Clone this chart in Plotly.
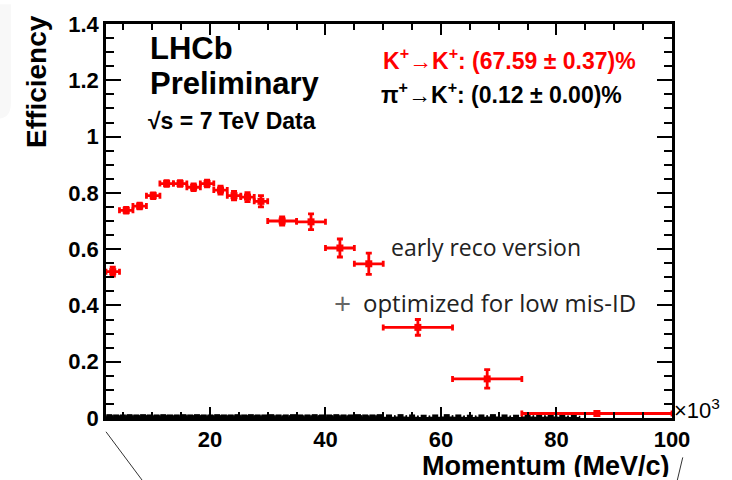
import plotly.graph_objects as go

# K+ -> K+ efficiency (momentum in units of 10^3 MeV/c)
k_p = [3.17, 5.50, 7.83, 10.17, 12.50, 14.83, 17.17, 19.50, 21.83, 24.17, 26.50, 28.83,
       32.5, 37.5, 42.5, 47.5, 56.0, 68.0, 87.0]
k_pw = [1.167] * 12 + [2.5, 2.5, 2.5, 2.5, 6.0, 6.0, 13.0]
k_eff = [0.520, 0.738, 0.753, 0.790, 0.833, 0.833, 0.820, 0.833, 0.810, 0.790, 0.785, 0.770,
         0.700, 0.697, 0.604, 0.548, 0.322, 0.139, 0.016]
k_err = [0.016, 0.010, 0.010, 0.010, 0.010, 0.010, 0.012, 0.012, 0.014, 0.015, 0.016, 0.020,
         0.015, 0.028, 0.032, 0.038, 0.028, 0.033, 0.006]

# pi+ -> K+ mis-identification rate
pi_p = [2.58, 3.75, 4.92, 6.08, 7.25, 8.42, 9.58, 10.75, 11.92, 13.08, 14.25, 15.42,
        16.58, 17.75, 18.92, 20.08, 21.25, 22.42, 23.58, 24.75, 25.92, 27.08, 28.25, 29.42,
        30.63, 31.88, 33.13, 34.38, 35.63, 36.88, 38.13, 39.38, 40.63, 41.88, 43.13, 44.38,
        45.63, 46.88, 48.13, 49.38,
        51.0, 53.0, 55.0, 57.0, 59.0, 61.0, 63.0, 65.0, 67.0, 69.0, 71.0, 73.0,
        75.0, 77.0, 79.0, 81.0, 83.0]
pi_pw = [0.583] * 24 + [0.625] * 16 + [1.0] * 17
pi_eff = [0.003, 0.002, 0.002, 0.003, 0.002, 0.003, 0.002, 0.002, 0.003, 0.002, 0.002, 0.003,
          0.002, 0.003, 0.002, 0.002, 0.003, 0.002, 0.002, 0.003, 0.002, 0.003, 0.002, 0.002,
          0.003, 0.002, 0.002, 0.003, 0.002, 0.002, 0.003, 0.002, 0.002, 0.003, 0.002, 0.002,
          0.003, 0.002, 0.002, 0.003,
          0.002, 0.003, 0.002, 0.001, 0.002, 0.003, 0.002, 0.001, 0.002, 0.003, 0.002, 0.001,
          0.003, 0.002, 0.003, 0.002, 0.001]
pi_err = [0.005] * 40 + [0.006] * 17

y_ticks = [0, 0.2, 0.4, 0.6, 0.8, 1, 1.2, 1.4]
y_ticktext = ["0", "0.2", "0.4", "0.6", "0.8", "1", "1.2", "1.4"]
x_ticks = [20, 40, 60, 80, 100]

FONT = "Liberation Sans"

fig = go.Figure()

fig.add_trace(go.Scatter(
    x=pi_p, y=pi_eff, mode="markers",
    marker=dict(symbol="square", size=6, color="black"),
    error_x=dict(type="data", array=pi_pw, color="black", thickness=1.5, width=2),
    error_y=dict(type="data", array=pi_err, color="black", thickness=1.5, width=2),
    showlegend=False, cliponaxis=False,
))

fig.add_trace(go.Scatter(
    x=k_p, y=k_eff, mode="markers",
    marker=dict(symbol="square", size=7, color="#ff0000"),
    error_x=dict(type="data", array=k_pw, color="#ff0000", thickness=2.8, width=3),
    error_y=dict(type="data", array=k_err, color="#ff0000", thickness=2.8, width=3),
    showlegend=False, cliponaxis=False,
))

axis_common = dict(
    showgrid=False, zeroline=False, showline=True, linecolor="black", linewidth=2.5,
    mirror="ticks", ticks="inside", tickcolor="black", tickwidth=2,
    tickfont=dict(family=FONT, size=22, color="black", weight=700),
)

fig.update_xaxes(
    range=[2, 100], tickvals=x_ticks, ticklen=11,
    minor=dict(dtick=5, tick0=0, ticks="inside", ticklen=6, tickwidth=2, tickcolor="black"),
    **axis_common,
)
fig.update_yaxes(
    range=[0, 1.4], tickvals=y_ticks, ticktext=y_ticktext, ticklen=15,
    minor=dict(dtick=0.05, tick0=0, ticks="inside", ticklen=8, tickwidth=2, tickcolor="black"),
    **axis_common,
)

def note(text, x, y, size, color="black", weight=700, xanchor="left", family=FONT,
         angle=0, height=None):
    fig.add_annotation(
        text=text, x=x, y=y, xref="paper", yref="paper", showarrow=False,
        xanchor=xanchor, yanchor="middle", textangle=angle, height=height,
        font=dict(family=family, size=size, color=color, weight=weight),
    )

note("LHCb", 0.074, 0.938, 31)
note("Preliminary", 0.074, 0.848, 31)
note("√s = 7 TeV Data", 0.070, 0.755, 23)
note("K<sup>+</sup>→K<sup>+</sup>: (67.59 ± 0.37)%", 0.486, 0.911, 23, color="#ff0000")
note("π<sup>+</sup>→K<sup>+</sup>: (0.12 ± 0.00)%", 0.482, 0.824, 23)
note("early reco version", 0.500, 0.434, 23, color="#222222", weight=400, family="Open Sans")
note("+", 0.400, 0.294, 30, color="#666666", weight=400, family="Open Sans", height=26)
note("optimized for low mis-ID", 0.451, 0.294, 24, color="#222222", weight=400,
     family="Open Sans")
note("×10<sup>3</sup>", 1.0, 0.022, 22, weight=400)
note("Momentum (MeV/c)", 1.0, -0.121, 27, xanchor="right", height=22)
note("Efficiency", -0.124, 0.855, 28, xanchor="center", angle=-90)

# faint page decoration and cut lines around the frame
fig.add_shape(type="path", xref="paper", yref="paper",
              path="M -0.19 1.05 L -0.168 1.05 L -0.168 0.80 Q -0.168 0.76 -0.19 0.76 Z",
              fillcolor="#f8f8f8", line=dict(width=0), layer="below")
fig.add_shape(type="line", xref="paper", yref="paper", x0=0.0, y0=-0.035, x1=0.065, y1=-0.16,
              line=dict(color="#333333", width=1))
fig.add_shape(type="line", xref="paper", yref="paper", x0=1.019, y0=-0.10, x1=1.009, y1=-0.16,
              line=dict(color="#333333", width=1))

fig.update_layout(
    width=732, height=480,
    margin=dict(l=106, r=60, t=17, b=62),
    paper_bgcolor="white", plot_bgcolor="white",
)

fig.write_html("out.html")
